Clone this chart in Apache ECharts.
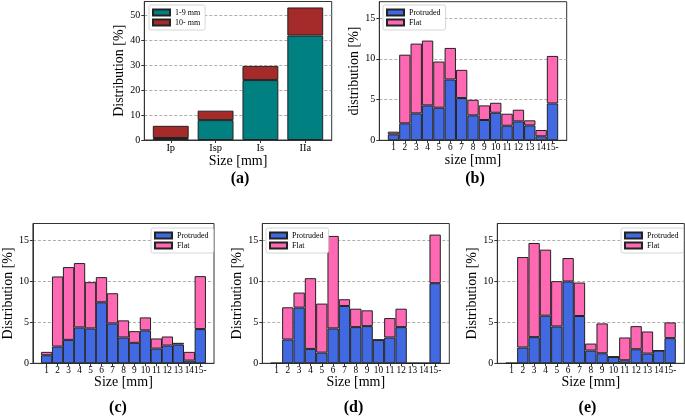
<!DOCTYPE html>
<html><head><meta charset="utf-8">
<script src="https://cdn.jsdelivr.net/npm/echarts@6/dist/echarts.min.js"></script>
<style>html,body{margin:0;padding:0;background:#fff;}#c{width:685px;height:416px;}</style>
</head><body><div id="c"></div>
<script>
// ---- data ----
const morphCategories = ['Ip', 'Isp', 'Is', 'IIa'];
const morphPositions = [0, 1, 2, 3];
const small1to9 = [0.8, 8.0, 24.1, 42.0];
const large10up = [4.9, 3.8, 5.7, 11.3];

const sizeLabels = ['1','2','3','4','5','6','7','8','9','10','11','12','13','14','15-'];
const sizePositions = [1,2,3,4,5,6,7,8,9,10,11,12,13,14,15];

const bProtruded = [0.73, 2.08, 3.30, 4.28, 4.00, 7.46, 5.18, 3.06, 2.49, 3.38, 1.79, 2.32, 1.83, 0.49, 4.52];
const bFlat      = [0.33, 8.42, 8.56, 7.95, 5.66, 3.87, 3.46, 1.91, 1.79, 1.22, 1.47, 1.43, 0.62, 0.77, 5.83];

const cProtruded = [0.98, 2.04, 2.85, 4.36, 4.24, 7.42, 4.85, 3.14, 2.49, 4.00, 1.79, 2.16, 2.28, 0.33, 4.16];
const cFlat      = [0.41, 8.52, 8.85, 7.83, 5.63, 3.06, 3.67, 2.08, 1.42, 1.58, 1.23, 1.10, 0.21, 1.06, 6.44];

const dProtruded = [0, 2.89, 6.77, 1.75, 1.30, 4.24, 6.97, 4.40, 4.52, 2.85, 3.14, 4.40, 0, 0, 9.74];
const dFlat      = [0, 3.92, 1.83, 8.60, 5.96, 11.25, 0.82, 2.24, 1.92, 0, 2.36, 2.24, 0, 0, 5.91];

const eProtruded = [0, 1.92, 3.18, 5.79, 4.48, 9.95, 5.75, 1.55, 1.22, 0.77, 0.37, 1.71, 1.18, 1.55, 3.06];
const eFlat      = [0, 11.00, 11.45, 8.03, 5.51, 2.85, 4.07, 0.85, 3.63, 0.05, 2.77, 2.81, 2.69, 0, 1.91];

const yTicksA = [0, 10, 20, 30, 40, 50];
const yTicksSize = [0, 5, 10, 15];

// ---- layout / style ----
const FONT = 'Liberation Serif';
const EDGE = '#222';
const grids = [
  {left: 144.3, top: 1.5, width: 187.4, height: 138.5},
  {left: 379.3, top: 1.7, width: 187.4, height: 138.6},
  {left: 27.3, top: 223.5, width: 186.7, height: 139.8},
  {left: 262.3, top: 223.5, width: 187, height: 139.8},
  {left: 497.3, top: 223.5, width: 187, height: 139.8}
].map(g => Object.assign({show: true, borderColor: '#333', borderWidth: 1, backgroundColor: 'rgba(0,0,0,0)'}, g));

const aMin = -0.59, aMax = 3.59;
const sMin = -0.25, sMax = 16.25;
const aBarW = 0.8 * grids[0].width / (aMax - aMin);

function xAxisSize(gi, name) {
  return {
    type: 'value', gridIndex: gi, min: sMin, max: sMax,
    name: name, nameLocation: 'middle', nameGap: gi === 1 ? 13 : 12.5,
    nameTextStyle: {fontFamily: FONT, fontSize: 14, color: '#000'},
    axisLine: {onZero: false, lineStyle: {color: '#333', width: 1}},
    axisTick: {show: true, customValues: sizePositions, length: 3, lineStyle: {color: '#333'}},
    axisLabel: {customValues: sizePositions, margin: 2.5, fontFamily: FONT, fontSize: 9.3, color: '#000',
      showMinLabel: true, showMaxLabel: true, hideOverlap: false,
      formatter: v => sizeLabels[Math.round(v) - 1]},
    splitLine: {show: false}
  };
}
function yAxisSize(gi, name) {
  return {
    type: 'value', gridIndex: gi, min: 0, max: 17, interval: 5,
    name: name, nameLocation: 'middle', nameGap: 15,
    nameTextStyle: {fontFamily: FONT, fontSize: 14, color: '#000'},
    axisLine: {show: true, onZero: false, lineStyle: {color: '#333', width: 1}},
    axisTick: {show: true, customValues: yTicksSize, length: 3, lineStyle: {color: '#333'}},
    axisLabel: {customValues: yTicksSize, margin: 4, fontFamily: FONT, fontSize: 10, color: '#000'},
    splitLine: {show: true, lineStyle: {color: '#999', type: [3, 2], width: 0.8}}
  };
}

const xAxes = [
  {
    type: 'value', gridIndex: 0, min: aMin, max: aMax,
    name: 'Size [mm]', nameLocation: 'middle', nameGap: 13,
    nameTextStyle: {fontFamily: FONT, fontSize: 14, color: '#000'},
    axisLine: {onZero: false, lineStyle: {color: '#333', width: 1}},
    axisTick: {show: true, customValues: morphPositions, length: 3, lineStyle: {color: '#333'}},
    axisLabel: {customValues: morphPositions, margin: 2.5, fontFamily: FONT, fontSize: 10.5, color: '#000',
      showMinLabel: true, showMaxLabel: true,
      formatter: v => morphCategories[Math.round(v)]},
    splitLine: {show: false}
  },
  xAxisSize(1, 'size [mm]'),
  xAxisSize(2, 'Size [mm]'),
  xAxisSize(3, 'Size [mm]'),
  xAxisSize(4, 'Size [mm]')
];
const yAxes = [
  {
    type: 'value', gridIndex: 0, min: 0, max: 55.7, interval: 10,
    name: 'Distribution [%]', nameLocation: 'middle', nameGap: 14,
    nameTextStyle: {fontFamily: FONT, fontSize: 14, color: '#000'},
    axisLine: {show: true, onZero: false, lineStyle: {color: '#333', width: 1}},
    axisTick: {show: true, customValues: yTicksA, length: 3, lineStyle: {color: '#333'}},
    axisLabel: {customValues: yTicksA, margin: 4, fontFamily: FONT, fontSize: 10, color: '#000'},
    splitLine: {show: true, lineStyle: {color: '#999', type: [3, 2], width: 0.8}}
  },
  yAxisSize(1, 'distribution [%]'),
  yAxisSize(2, 'Distribution [%]'),
  yAxisSize(3, 'Distribution [%]'),
  yAxisSize(4, 'Distribution [%]')
];

// data items are [value, position] so that the value dimension is stacked
function barSeries(name, gi, stack, width, positions, values, color) {
  return {
    type: 'bar', name: name, xAxisIndex: gi, yAxisIndex: gi, stack: stack, barWidth: width,
    dimensions: [{name: 'val', type: 'float'}, {name: 'pos', type: 'float'}],
    encode: {x: 'pos', y: 'val'},
    data: positions.map((x, i) => [values[i], x]),
    itemStyle: {color: color, borderColor: EDGE, borderWidth: 1}
  };
}

const series = [
  barSeries('1-9 mm', 0, 'a', aBarW, morphPositions, small1to9, '#008080'),
  barSeries('10- mm', 0, 'a', aBarW, morphPositions, large10up, '#a52a2a')
];
const panels = [[bProtruded, bFlat], [cProtruded, cFlat], [dProtruded, dFlat], [eProtruded, eFlat]];
panels.forEach((p, k) => {
  const gi = k + 1;
  const bw = grids[gi].width / (sMax - sMin);
  series.push(barSeries('Protruded', gi, 's' + gi, bw, sizePositions, p[0], '#4169e1'));
  series.push(barSeries('Flat', gi, 's' + gi, bw, sizePositions, p[1], '#ff69b4'));
});

function legendAt(left, top, names) {
  return {
    left: left, top: top, orient: 'vertical', data: names, icon: 'rect',
    itemWidth: 17, itemHeight: 6, itemGap: 2, itemTextGap: 6,
    padding: [3.5, 5, 3.5, 3], backgroundColor: '#fff', borderColor: '#ccc', borderWidth: 0.8, borderRadius: 2,
    textStyle: {fontFamily: FONT, fontSize: 8, color: '#000'}, selectedMode: false
  };
}
const legends = [
  legendAt(149, 5, ['1-9 mm', '10- mm']),
  legendAt(383, 5, ['Protruded', 'Flat']),
  legendAt(151, 228, ['Protruded', 'Flat']),
  legendAt(266, 228, ['Protruded', 'Flat']),
  legendAt(621, 228, ['Protruded', 'Flat'])
];

const panelLabels = [['(a)', 240, 178.5], ['(b)', 475, 179], ['(c)', 118, 408], ['(d)', 353.5, 408], ['(e)', 587.5, 408]];
const graphics = panelLabels.map(l => ({
  type: 'text', x: l[1], y: l[2],
  style: {text: l[0], font: 'bold 16px "Liberation Serif"', fill: '#000',
    align: 'center', verticalAlign: 'middle', textAlign: 'center', textVerticalAlign: 'middle'}
}));

const chart = echarts.init(document.getElementById('c'));
chart.setOption({
  animation: false,
  backgroundColor: '#fff',
  grid: grids, xAxis: xAxes, yAxis: yAxes, series: series,
  legend: legends, graphic: graphics
});
</script></body></html>
